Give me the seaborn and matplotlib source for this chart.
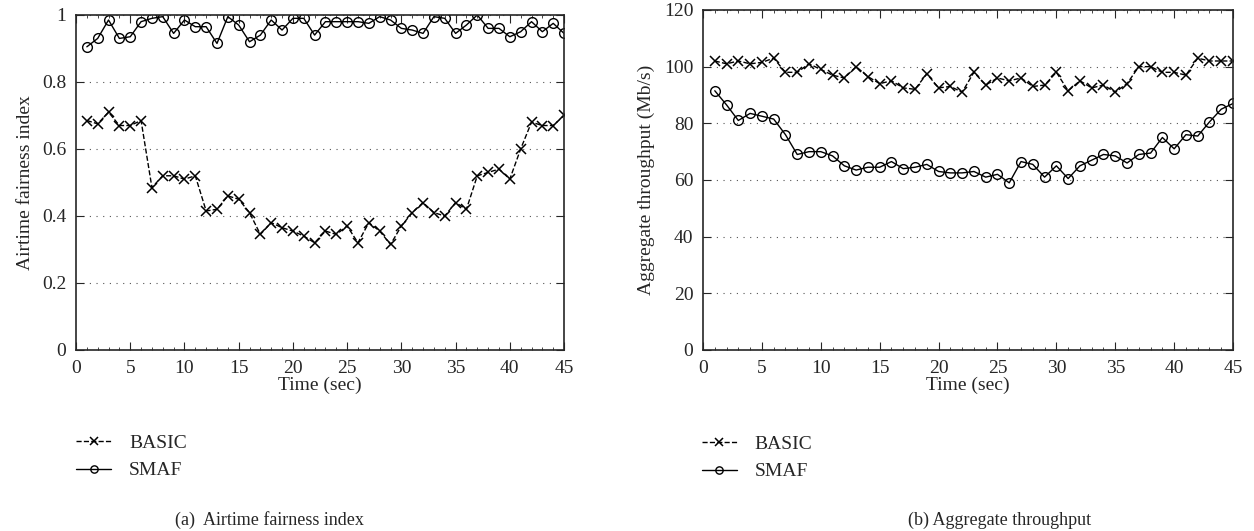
import matplotlib
matplotlib.use("Agg")
import matplotlib.pyplot as plt
import numpy as np
import seaborn as sns
from matplotlib.ticker import MultipleLocator, FuncFormatter

sns.set_style("ticks")
plt.rcParams['font.family'] = ['Liberation Serif', 'DejaVu Serif']

time = list(range(1, 46))

# (a) airtime fairness index
fair_basic = [0.685, 0.675, 0.71, 0.67, 0.67, 0.685, 0.485, 0.52, 0.52, 0.51,
              0.52, 0.415, 0.42, 0.46, 0.45, 0.41, 0.345, 0.38, 0.365, 0.355,
              0.34, 0.32, 0.355, 0.345, 0.37, 0.32, 0.38, 0.355, 0.315, 0.37,
              0.41, 0.44, 0.41, 0.40, 0.44, 0.42, 0.52, 0.53, 0.54, 0.51,
              0.60, 0.68, 0.67, 0.67, 0.70]
fair_smaf = [0.905, 0.93, 0.985, 0.93, 0.935, 0.98, 0.99, 0.995, 0.945, 0.985,
             0.965, 0.965, 0.915, 0.995, 0.97, 0.92, 0.94, 0.985, 0.955, 0.99,
             0.99, 0.94, 0.98, 0.98, 0.98, 0.98, 0.975, 0.995, 0.985, 0.96,
             0.955, 0.945, 0.995, 0.99, 0.945, 0.97, 1.0, 0.96, 0.96, 0.935,
             0.95, 0.98, 0.95, 0.975, 0.945]

# (b) aggregate throughput
thr_basic = [102, 101, 102, 101, 101.5, 103, 98, 98, 101, 99,
             97, 96, 100, 96.5, 94, 95, 92.5, 92, 97.5, 92.5,
             93, 91, 98, 93.5, 96, 95, 96, 93, 93.5, 98,
             91.5, 95, 92.5, 93.5, 91, 94, 100, 100, 98, 98,
             97, 103, 102, 102, 102]
thr_smaf = [91.5, 86.5, 81, 83.5, 82.5, 81.5, 76, 69, 70, 70,
            68.5, 65, 63.5, 64.5, 64.5, 66.5, 64, 64.5, 65.5, 63,
            62.5, 62.5, 63, 61, 62, 59, 66.5, 65.5, 61, 65,
            60.5, 65, 67, 69, 68.5, 66, 69, 69.5, 75, 71,
            76, 75.5, 80.5, 85, 87]

fig = plt.figure(figsize=(12.54, 5.31), dpi=100)
ax1 = fig.add_axes([0.0606, 0.3409, 0.3892, 0.6309])
ax2 = fig.add_axes([0.5606, 0.3409, 0.4227, 0.6403])


def draw(ax, basic, smaf, ylim, ystep, ylabel):
    sns.lineplot(x=time, y=basic, ax=ax, color="black", linestyle="--",
                 marker="x", markersize=7, markeredgewidth=1.1,
                 markeredgecolor="black", linewidth=1.0,
                 dashes=(4, 3), label="BASIC")
    sns.lineplot(x=time, y=smaf, ax=ax, color="black", linestyle="-",
                 marker="o", markersize=7, markerfacecolor="none",
                 markeredgecolor="black", markeredgewidth=1.0, linewidth=1.0,
                 label="SMAF")
    ax.set_xlim(0, 45)
    ax.set_ylim(*ylim)
    ax.xaxis.set_major_locator(MultipleLocator(5))
    ax.xaxis.set_minor_locator(MultipleLocator(1))
    ax.yaxis.set_major_locator(MultipleLocator(ystep))
    ax.tick_params(which="both", direction="in", top=True, right=True,
                   labelsize=14, pad=7)
    ax.tick_params(which="major", length=6)
    ax.tick_params(which="minor", length=2)
    ax.grid(axis="y", linestyle=(0, (1, 5)), color="#555555", linewidth=0.8)
    for s in ax.spines.values():
        s.set_linewidth(1.2)
    ax.set_xlabel("Time (sec)", fontsize=14, labelpad=0)
    ax.set_ylabel(ylabel, fontsize=14, labelpad=6)
    ax.legend(loc="upper left", bbox_to_anchor=(-0.035, -0.2),
              frameon=False, fontsize=14, handlelength=1.8, markerscale=0.75,
              handletextpad=0.9, labelspacing=0.5)


draw(ax1, fair_basic, fair_smaf, (0, 1), 0.2, "Airtime fairness index")
ax1.yaxis.set_major_formatter(FuncFormatter(
    lambda v, p: f"{v:.1f}".rstrip("0").rstrip(".") if abs(v - round(v)) > 1e-6
    else str(int(round(v)))))
draw(ax2, thr_basic, thr_smaf, (0, 120), 20, "Aggregate throughput (Mb/s)")

fig.text(0.215, 0.012, "(a)  Airtime fairness index", fontsize=13, ha="center")
fig.text(0.797, 0.012, "(b) Aggregate throughput", fontsize=13, ha="center")

fig.savefig("out.png", dpi=100)
